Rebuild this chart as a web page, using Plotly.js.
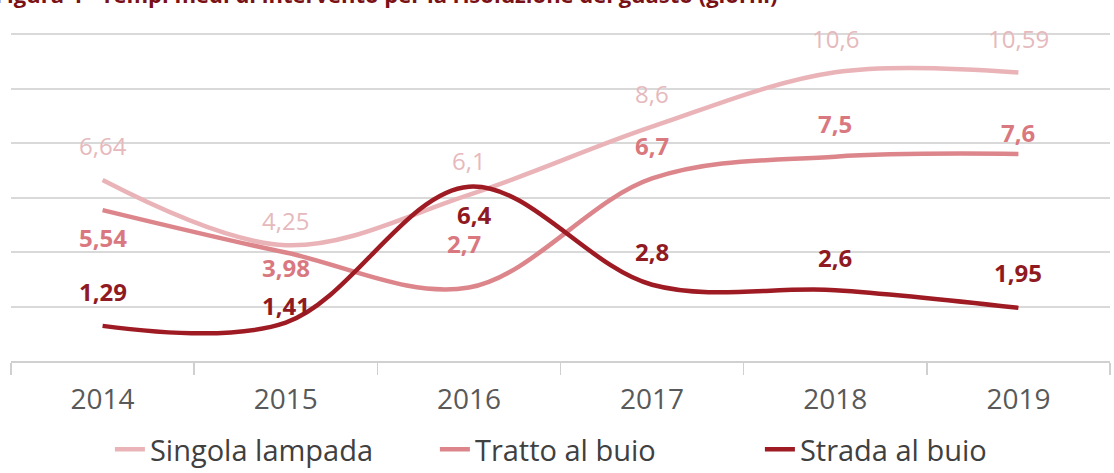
<!DOCTYPE html>
<html>
<head>
<meta charset="utf-8">
<script src="https://cdn.plot.ly/plotly-3.0.1.min.js"></script>
<style>html,body{margin:0;padding:0;background:#fff;}#chart{width:1114px;height:473px;}</style>
</head>
<body>
<div id="chart"></div>
<script>
const years = ['2014', '2015', '2016', '2017', '2018', '2019'];
const singolaLampada = [6.64, 4.25, 6.1, 8.6, 10.6, 10.59];
const trattoAlBuio = [5.54, 3.98, 2.7, 6.7, 7.5, 7.6];
const stradaAlBuio = [1.29, 1.41, 6.4, 2.8, 2.6, 1.95];
const seriesNames = ['Singola lampada', 'Tratto al buio', 'Strada al buio'];
const titleText = 'Figura 4 - Tempi medi di intervento per la risoluzione del guasto (giorni)';

const colors = ['#e9b3b7', '#dc868c', '#9e1b24'];
const labelColors = ['#e6b9bd', '#d9787f', '#8f1a22'];
const labelBold = [false, true, true];
const labelShift = [
  [35, 25, 34, 33, 34, 34],
  [-27, -15, 44, 33, 33, 21],
  [34, 17, -28, 33, 33, 35]
];
const labelXShift = [
  [0, 0, 0, 0, 0, 0],
  [0, 0, -5, 0, 0, 0],
  [0, 0, 6, 0, 0, 0]
];
const allSeries = [singolaLampada, trattoAlBuio, stradaAlBuio];
const fmt = v => String(v).replace('.', ',');

const traces = allSeries.map((vals, i) => ({
  type: 'scatter', mode: 'lines', x: years, y: vals, name: seriesNames[i],
  line: {color: colors[i], width: 4.5, shape: 'spline', smoothing: 1},
  hoverinfo: 'skip'
}));

const annotations = [];
allSeries.forEach((vals, i) => {
  vals.forEach((v, j) => {
    annotations.push({
      x: j, y: v, xref: 'x', yref: 'y', showarrow: false,
      text: labelBold[i] ? '<b>' + fmt(v) + '</b>' : fmt(v),
      yshift: labelShift[i][j], xshift: labelXShift[i][j],
      font: {family: 'Open Sans, sans-serif', size: 24, color: labelColors[i]}
    });
  });
});
annotations.push({
  x: 0, y: 1, xref: 'paper', yref: 'paper', xanchor: 'left', yanchor: 'bottom',
  xshift: -18, yshift: 22, showarrow: false, text: '<b>' + titleText + '</b>',
  font: {family: 'Open Sans, sans-serif', size: 22, color: '#7a1116'}
});

const layout = {
  width: 1114, height: 473,
  margin: {l: 11, r: 4, t: 33, b: 112},
  paper_bgcolor: '#ffffff', plot_bgcolor: '#ffffff',
  showlegend: true,
  legend: {
    orientation: 'h', x: 0.09, xanchor: 'left',
    yref: 'container', y: 0.05, yanchor: 'middle',
    font: {family: 'Open Sans, sans-serif', size: 29, color: '#404040'},
    entrywidth: 280, tracegroupgap: 0
  },
  xaxis: {
    type: 'category', range: [-0.5, 5.5], showgrid: false, zeroline: false,
    showline: true, linecolor: '#d0d0d0', linewidth: 2,
    ticks: 'outside', tickson: 'boundaries', ticklen: 12, tickcolor: '#d0d0d0', tickwidth: 1.5,
    tickfont: {family: 'Open Sans, sans-serif', size: 28, color: '#595959'},
    ticklabelstandoff: 12, fixedrange: true
  },
  yaxis: {
    range: [0, 12.04], tickvals: [2, 4, 6, 8, 10, 12], showgrid: true, gridcolor: '#d9d9d9', gridwidth: 2,
    zeroline: false, showticklabels: false, ticks: '', showline: false, fixedrange: true
  },
  annotations: annotations
};

Plotly.newPlot('chart', traces, layout, {displayModeBar: false, staticPlot: true});
</script>
</body>
</html>
